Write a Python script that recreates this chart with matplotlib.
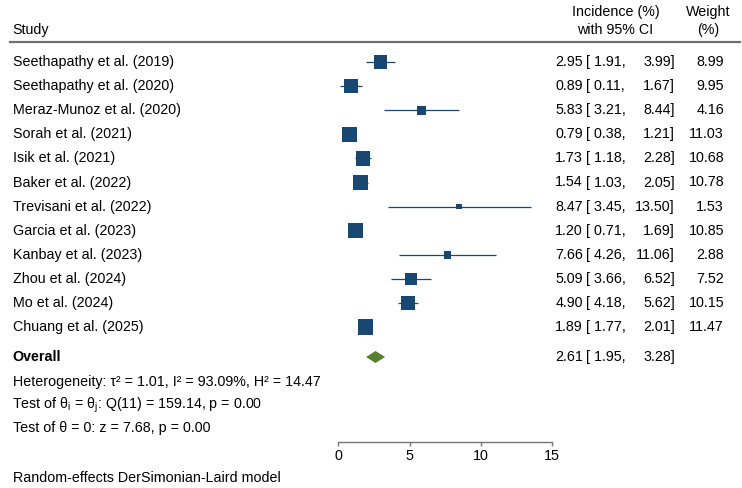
import numpy as np
import matplotlib
matplotlib.use('Agg')
import matplotlib.pyplot as plt
from matplotlib import transforms

plt.rcParams['font.family'] = ['Liberation Sans', 'DejaVu Sans']
plt.rcParams['mathtext.fontset'] = 'custom'
plt.rcParams['mathtext.rm'] = 'Liberation Sans'

# data
studies = ['Seethapathy et al. (2019)', 'Seethapathy et al. (2020)', 'Meraz-Munoz et al. (2020)',
           'Sorah et al. (2021)', 'Isik et al. (2021)', 'Baker et al. (2022)',
           'Trevisani et al. (2022)', 'Garcia et al. (2023)', 'Kanbay et al. (2023)',
           'Zhou et al. (2024)', 'Mo et al. (2024)', 'Chuang et al. (2025)']
est = [2.95, 0.89, 5.83, 0.79, 1.73, 1.54, 8.47, 1.20, 7.66, 5.09, 4.90, 1.89]
lo = [1.91, 0.11, 3.21, 0.38, 1.18, 1.03, 3.45, 0.71, 4.26, 3.66, 4.18, 1.77]
hi = [3.99, 1.67, 8.44, 1.21, 2.28, 2.05, 13.50, 1.69, 11.06, 6.52, 5.62, 2.01]
weight = [8.99, 9.95, 4.16, 11.03, 10.68, 10.78, 1.53, 10.85, 2.88, 7.52, 10.15, 11.47]
overall = (2.61, 1.95, 3.28)
xticks = [0, 5, 10, 15]

navy = '#1a476f'
green = '#55802e'
fs = 10.3
W, H = 742, 488

fig = plt.figure(figsize=(W / 100, H / 100), dpi=100)
# axes: x data 0..15 spans the plot column, bottom edge is the x axis line
x0, x15, yaxis = 338.3, 552.3, 441.7
ax = fig.add_axes([x0 / W, 1 - yaxis / H, (x15 - x0) / W, yaxis / H])
row0, step = 62, 24.1
ax.set_xlim(0, 15)
ax.set_ylim((yaxis - row0) / step, (0 - row0) / step)

rows = np.arange(len(studies))
ax.hlines(rows, lo, hi, color=navy, lw=0.9, zorder=2)
ax.scatter(est, rows, s=np.array(weight) * 10.6, marker='s', color=navy, linewidths=0, zorder=3)

y_ov = (357 - row0) / step
h = 6 / step
ax.fill([overall[1], overall[0], overall[2], overall[0]], [y_ov, y_ov - h, y_ov, y_ov + h],
        color=green, lw=0, zorder=3)

for s in ['top', 'right', 'left']:
    ax.spines[s].set_visible(False)
ax.spines['bottom'].set_color('#777777')
ax.spines['bottom'].set_linewidth(1.0)
ax.set_yticks([])
ax.set_xticks(xticks)
ax.tick_params(axis='x', direction='out', length=3, width=1.0, color='#777777', labelsize=fs, pad=2)
ax.patch.set_visible(False)

tr = transforms.blended_transform_factory(fig.transFigure, ax.transData)
def yrow(px):
    return (px - row0) / step

# headers
ax.text(12.7 / W, yrow(30), 'Study', transform=tr, ha='left', va='center', fontsize=fs)
ax.text(615.5 / W, yrow(11.7), 'Incidence (%)', transform=tr, ha='center', va='center', fontsize=fs)
ax.text(615.5 / W, yrow(30), 'with 95% CI', transform=tr, ha='center', va='center', fontsize=fs)
ax.text(708 / W, yrow(11.7), 'Weight', transform=tr, ha='center', va='center', fontsize=fs)
ax.text(708 / W, yrow(30), '(%)', transform=tr, ha='center', va='center', fontsize=fs)
ax.plot([10 / W, 740 / W], [yrow(42), yrow(42)], transform=tr, color='#6e6e6e', lw=1.6, clip_on=False)

def ci_text(y, e, l, u, w=None):
    ax.text(583 / W, y, f'{e:.2f}', transform=tr, ha='right', va='center', fontsize=fs)
    ax.text(585.5 / W, y, f'[ {l:.2f},', transform=tr, ha='left', va='center', fontsize=fs)
    ax.text(675 / W, y, f'{u:.2f}]', transform=tr, ha='right', va='center', fontsize=fs)
    if w is not None:
        ax.text(724 / W, y, f'{w:.2f}', transform=tr, ha='right', va='center', fontsize=fs)

for i, name in enumerate(studies):
    ax.text(12.7 / W, i, name, transform=tr, ha='left', va='center', fontsize=fs)
    ci_text(i, est[i], lo[i], hi[i], weight[i])

ax.text(12.7 / W, y_ov, 'Overall', transform=tr, ha='left', va='center', fontsize=fs, fontweight='bold')
ci_text(y_ov, *overall)

ax.text(12.7 / W, yrow(382), 'Heterogeneity: τ² = 1.01, I² = 93.09%, H² = 14.47',
        transform=tr, ha='left', va='center', fontsize=fs)
ax.text(11.5 / W, yrow(405), 'Test of θ$_\\mathregular{i}$ = θ$_\\mathregular{j}$: Q(11) = 159.14, p = 0.00',
        transform=tr, ha='left', va='center', fontsize=fs)
ax.text(12.7 / W, yrow(428), 'Test of θ = 0: z = 7.68, p = 0.00',
        transform=tr, ha='left', va='center', fontsize=fs)
ax.text(12.7 / W, yrow(478), 'Random-effects DerSimonian-Laird model',
        transform=tr, ha='left', va='center', fontsize=fs)

fig.savefig('out.png', dpi=100, facecolor='white')
